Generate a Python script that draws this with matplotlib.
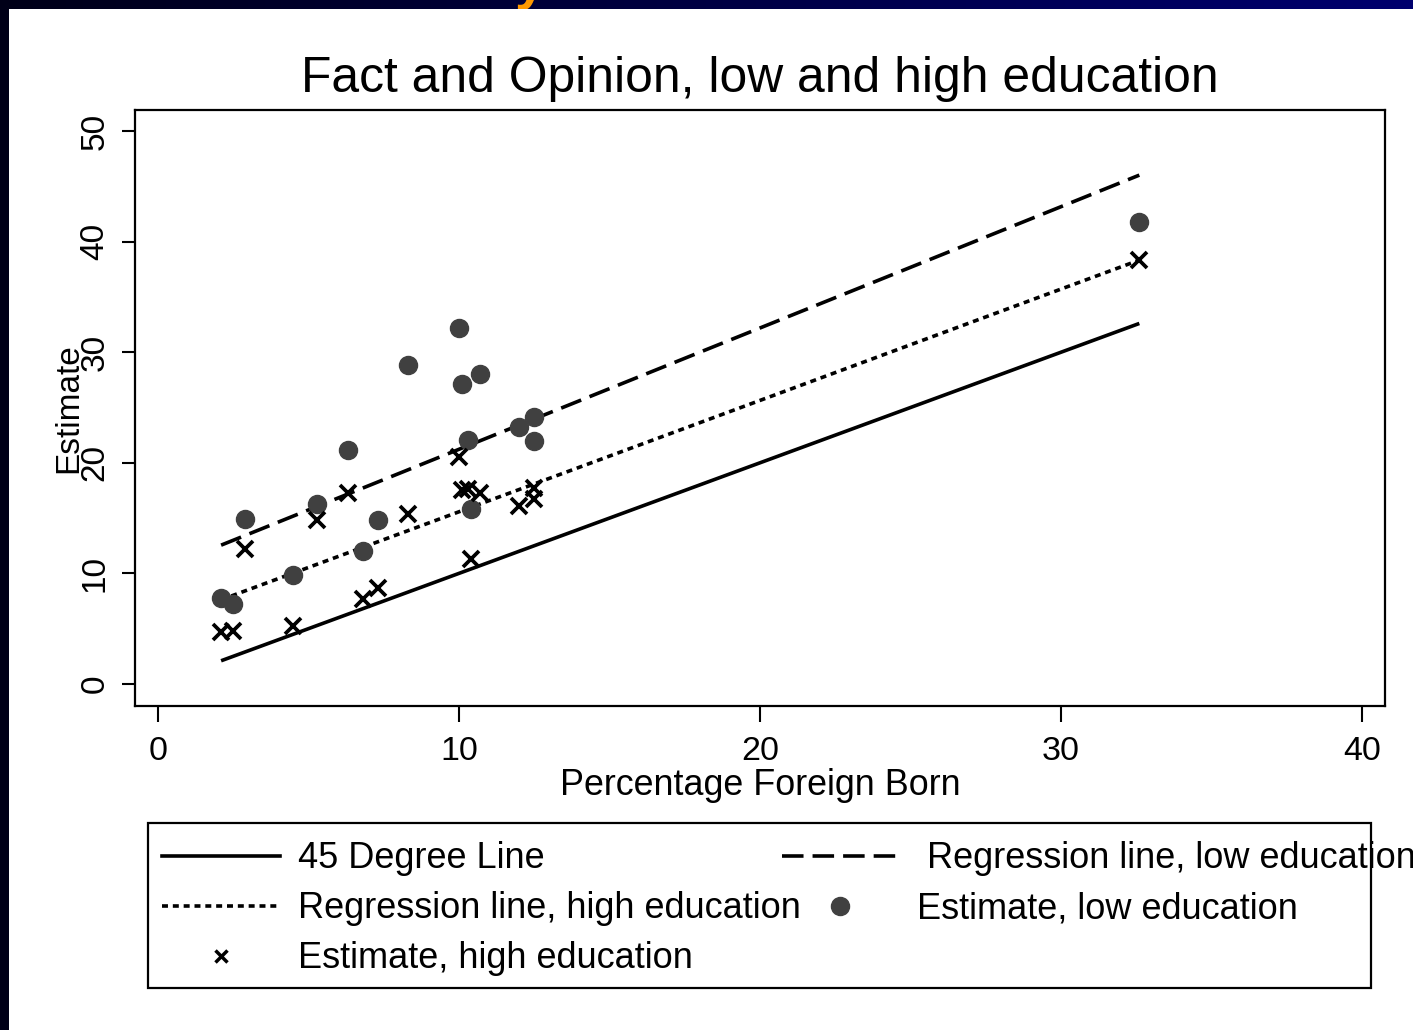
import numpy as np
import matplotlib
matplotlib.use("Agg")
import matplotlib.pyplot as plt
from matplotlib.lines import Line2D
from matplotlib.patches import Rectangle

plt.rcParams["font.family"] = ["Liberation Sans", "DejaVu Sans"]
plt.rcParams["lines.scale_dashes"] = False

# ---- data ----
foreign_born = [2.1, 2.5, 2.9, 4.5, 5.3, 6.3, 6.8, 7.3, 8.3,
                10.0, 10.1, 10.3, 10.4, 10.7, 12.0, 12.5, 12.5, 32.6]
est_low = [7.8, 7.2, 14.9, 9.9, 16.3, 21.2, 12.0, 14.8, 28.8,
           32.2, 27.1, 22.1, 15.8, 28.0, 23.2, 24.1, 22.0, 41.8]
est_high = [4.7, 4.8, 12.2, 5.2, 14.8, 17.3, 7.7, 8.7, 15.4,
            20.5, 17.5, 17.6, 11.3, 17.3, 16.1, 17.7, 16.7, 38.3]

# regression fits (intercept, slope)
fit_low = (10.25, 1.097)
fit_high = (5.5, 1.007)

x_ticks = [0, 10, 20, 30, 40]
y_ticks = [0, 10, 20, 30, 40, 50]

W, H = 1413, 1030
fig = plt.figure(figsize=(W / 100, H / 100), dpi=100)

# slide background: navy strip on top / left
bg = fig.add_axes([0, 0, 1, 1], zorder=-5)
bg.set_xlim(0, W)
bg.set_ylim(H, 0)
bg.axis("off")
grad = np.linspace(0, 1, 256).reshape(1, -1)
bg.imshow(grad, cmap=matplotlib.colors.LinearSegmentedColormap.from_list(
    "navy", ["#000018", "#00006e"]), extent=[0, W, H, 0], aspect="auto")
bg.text(530, -2, "y", color="#ff9900", fontsize=40, fontweight="bold",
        ha="center", va="baseline")
bg.add_patch(Rectangle((9, 9), W, H, facecolor="white", edgecolor="none", zorder=5))

# ---- main axes ----
L, R, T, B = 135, 1385, 110, 706
ax = fig.add_axes([L / W, 1 - B / H, (R - L) / W, (B - T) / H], zorder=2)

LW = 2.6
xs = np.array(foreign_born)
xline = np.array([xs.min(), xs.max()])
ax.plot(xline, xline, color="black", lw=LW, solid_capstyle="butt")
ax.plot(xline, fit_low[0] + fit_low[1] * xline, color="black", lw=LW,
        dashes=(15.5, 6.5), dash_capstyle="butt")
ax.plot(xline, fit_high[0] + fit_high[1] * xline, color="black", lw=LW,
        dashes=(4.3, 3.5), dash_capstyle="butt")
ax.plot(foreign_born, est_low, "o", color="#404040", ms=13, mec="#404040", ls="none")
ax.plot(foreign_born, est_high, "x", color="black", ms=11, mew=2.7, ls="none")

ax.set_xlim(-0.76, 40.76)
ax.set_ylim(-1.99, 51.9)
ax.set_xticks(x_ticks)
ax.set_yticks(y_ticks)
for s in ax.spines.values():
    s.set_linewidth(1.6)
ax.tick_params(axis="x", length=11.5, width=1.5, pad=10, labelsize=24.5)
ax.tick_params(axis="y", length=9.5, width=1.5, pad=8, labelsize=24)
plt.setp(ax.get_yticklabels(), rotation=90, va="center")

ax.set_title("Fact and Opinion, low and high education", fontsize=35.8, pad=13)
ax.set_xlabel("Percentage Foreign Born", fontsize=25.8, labelpad=1)
ax.set_ylabel("Estimate", fontsize=24)
ax.yaxis.set_label_coords((84 - L) / (R - L), 0.5)

# ---- legend box (drawn by hand so the text can overrun the frame) ----
LL, LR, LT, LB = 148, 1371, 823, 988
lax = fig.add_axes([0, 0, 1, 1], zorder=3)
lax.set_xlim(0, W)
lax.set_ylim(H, 0)
lax.axis("off")
lax.add_patch(Rectangle((LL, LT), LR - LL, LB - LT, facecolor="none",
                        edgecolor="black", lw=1.6))
fs = 26
rows = [856, 906, 956]
trow = [r + 3 for r in rows]
lax.add_line(Line2D([162, 280], [rows[0]] * 2, color="black", lw=LW))
lax.text(298, trow[0], "45 Degree Line", fontsize=fs, va="center")
lax.add_line(Line2D([782, 897], [rows[0]] * 2, color="black", lw=LW,
                    dashes=(15.5, 6.5), dash_capstyle="butt"))
lax.text(927, trow[0], "Regression line, low education", fontsize=fs, va="center")
lax.add_line(Line2D([162, 280], [rows[1]] * 2, color="black", lw=LW,
                    dashes=(4.3, 3.5), dash_capstyle="butt"))
lax.text(298, trow[1], "Regression line, high education", fontsize=fs, va="center")
lax.add_line(Line2D([840], [rows[1]], marker="o", color="#404040", ms=13, ls="none"))
lax.text(917, trow[1], "Estimate, low education", fontsize=fs, va="center")
lax.add_line(Line2D([221], [rows[2]], marker="x", color="black", ms=8, mew=2.5, ls="none"))
lax.text(298, trow[2], "Estimate, high education", fontsize=fs, va="center")

fig.savefig("out.png", dpi=100)
